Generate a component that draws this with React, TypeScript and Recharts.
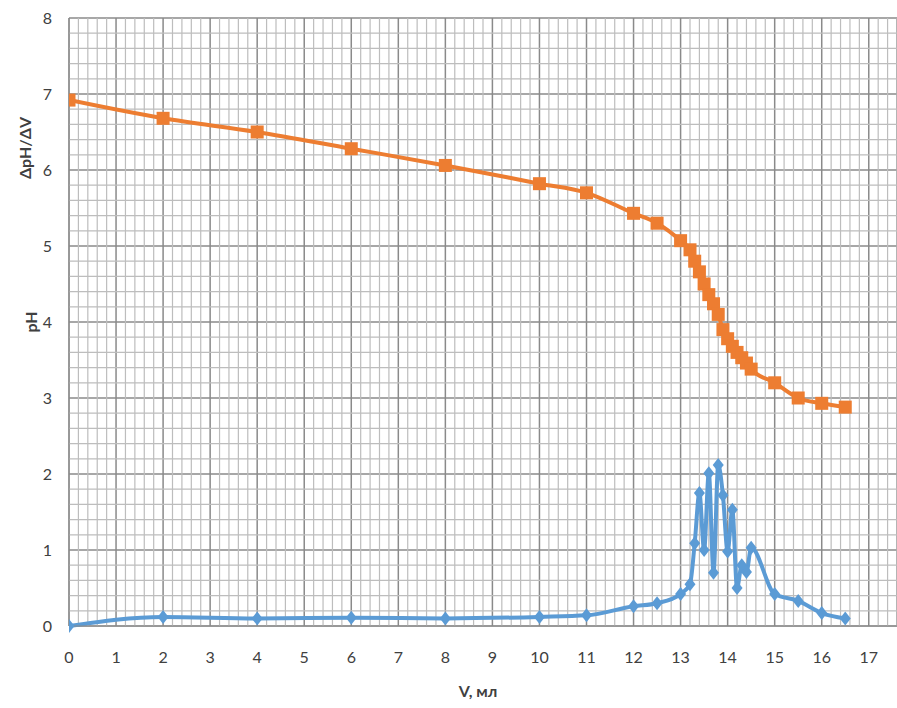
import React from 'react'
import {
  LineChart,
  Line,
  XAxis,
  YAxis,
  CartesianGrid,
  ReferenceLine,
} from 'recharts'

// V, ml
const volume = [
  0, 2, 4, 6, 8, 10, 11, 12, 12.5, 13, 13.2, 13.3, 13.4, 13.5, 13.6, 13.7, 13.8,
  13.9, 14, 14.1, 14.2, 14.3, 14.4, 14.5, 15, 15.5, 16, 16.5,
]
// pH
const ph = [
  6.92, 6.68, 6.5, 6.28, 6.06, 5.82, 5.7, 5.43, 5.3, 5.07, 4.95, 4.8, 4.66, 4.5,
  4.36, 4.24, 4.1, 3.9, 3.78, 3.68, 3.6, 3.53, 3.46, 3.38, 3.2, 3.0, 2.93, 2.88,
]
// ΔpH/ΔV
const dph = [
  0, 0.12, 0.1, 0.11, 0.1, 0.12, 0.14, 0.26, 0.3, 0.42, 0.55, 1.09, 1.75, 1.0,
  2.01, 0.7, 2.12, 1.72, 0.98, 1.53, 0.5, 0.8, 0.71, 1.03, 0.42, 0.33, 0.17, 0.1,
]

const xTicks = [0, 1, 2, 3, 4, 5, 6, 7, 8, 9, 10, 11, 12, 13, 14, 15, 16, 17]
const yTicks = [0, 1, 2, 3, 4, 5, 6, 7, 8]

// minor grid every 0.2
const minorX: number[] = []
for (let i = 1; i <= 88; i++) if (i % 5 !== 0) minorX.push(i / 5)
const minorY: number[] = []
for (let i = 1; i < 40; i++) if (i % 5 !== 0) minorY.push(i / 5)

const data = volume.map((v, i) => ({ v, ph: ph[i], dph: dph[i] }))

const ORANGE = '#ED7D31'
const BLUE = '#5B9BD5'
const FONT = 'Lato, "Open Sans", sans-serif'

const SquareDot = (props: any) => {
  const { cx, cy } = props
  if (cx == null || cy == null) return null
  return <rect x={cx - 6.5} y={cy - 6.5} width={13} height={13} fill={ORANGE} />
}

const DiamondDot = (props: any) => {
  const { cx, cy } = props
  if (cx == null || cy == null) return null
  return (
    <polygon
      points={`${cx},${cy - 7} ${cx + 5.5},${cy} ${cx},${cy + 7} ${cx - 5.5},${cy}`}
      fill={BLUE}
    />
  )
}

const titleStyle: React.CSSProperties = {
  position: 'absolute',
  fontSize: 16,
  fontWeight: 'bold',
  color: '#404040',
  whiteSpace: 'nowrap',
}

export default function App() {
  return (
    <div style={{ position: 'absolute', left: 0, top: 0, width: 897, height: 708, background: '#fff', fontFamily: FONT }}>
      <LineChart
        width={897}
        height={708}
        data={data}
        margin={{ top: 18, right: 0, left: 0, bottom: 0 }}
      >
        {minorX.map(x => (
          <ReferenceLine key={'mx' + x} x={x} stroke="#bdbdbd" strokeWidth={1.2} ifOverflow="hidden" />
        ))}
        {minorY.map(y => (
          <ReferenceLine key={'my' + y} y={y} stroke="#bdbdbd" strokeWidth={1.2} ifOverflow="hidden" />
        ))}
        <CartesianGrid stroke="#8a8a8a" strokeWidth={1.5} />
        <XAxis
          type="number"
          dataKey="v"
          domain={[0, 17.6]}
          ticks={xTicks}
          allowDataOverflow
          height={82}
          tickSize={0}
          tickMargin={26}
          axisLine={{ stroke: '#8a8a8a' }}
          tick={{ fontSize: 16, fill: '#404040', fontFamily: FONT }}
        />
        <YAxis
          type="number"
          domain={[0, 8]}
          ticks={yTicks}
          width={69}
          tickSize={0}
          tickMargin={17}
          axisLine={{ stroke: '#8a8a8a' }}
          tick={{ fontSize: 16, fill: '#404040', fontFamily: FONT }}
        />
        <Line
          type="monotone"
          dataKey="ph"
          stroke={ORANGE}
          strokeWidth={4}
          dot={<SquareDot />}
          activeDot={false}
          isAnimationActive={false}
        />
        <Line
          type="monotone"
          dataKey="dph"
          stroke={BLUE}
          strokeWidth={4}
          dot={<DiamondDot />}
          activeDot={false}
          isAnimationActive={false}
        />
      </LineChart>
      <div style={{ ...titleStyle, left: 478, top: 690, transform: 'translate(-50%, -50%)' }}>
        V, мл
      </div>
      <div style={{ ...titleStyle, left: 24, top: 148, transform: 'translate(-50%, -50%) rotate(-90deg)' }}>
        ΔpH/ΔV
      </div>
      <div style={{ ...titleStyle, left: 30, top: 322, transform: 'translate(-50%, -50%) rotate(-90deg)' }}>
        pH
      </div>
    </div>
  )
}
